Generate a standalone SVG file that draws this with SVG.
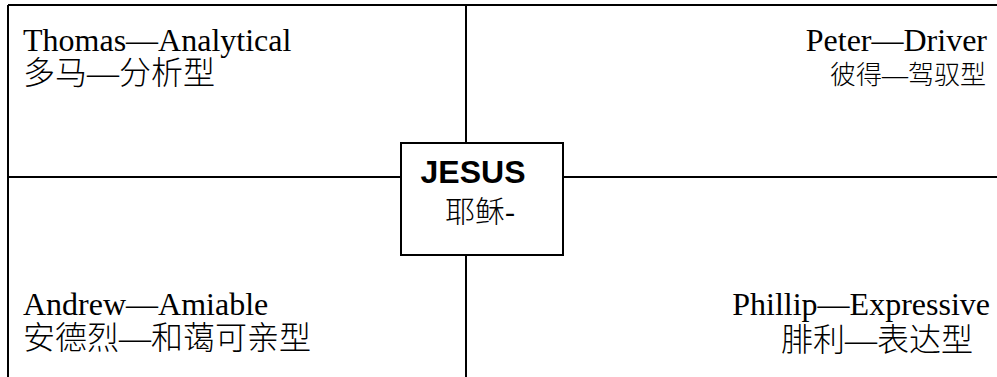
<svg xmlns="http://www.w3.org/2000/svg" width="997" height="377" viewBox="0 0 997 377">
<style>
.ln{stroke:#000;stroke-width:2;fill:none}
.en{font-family:"Liberation Serif","Times New Roman",serif;font-size:32px;fill:#000}
.zh{font-family:"Liberation Serif","Noto Sans CJK SC",serif;font-size:32px;fill:#000;font-weight:300}
.zhs{font-size:26px}
.zhm{font-size:30px}
.jb{font-family:"Liberation Sans",Arial,sans-serif;font-size:32px;font-weight:bold;fill:#000}
</style>
<rect width="997" height="377" fill="#fff"/>
<g id="connectors">
<line class="ln" x1="8" y1="5" x2="997" y2="5"/>
<line class="ln" x1="8" y1="5" x2="8" y2="377"/>
<line class="ln" x1="466" y1="5" x2="466" y2="143"/>
<line class="ln" x1="466" y1="255" x2="466" y2="377"/>
<line class="ln" x1="8" y1="177" x2="400" y2="177"/>
<line class="ln" x1="563" y1="177" x2="997" y2="177"/>
</g>
<g id="thomas">
<text class="en" x="23" y="51">Thomas—Analytical</text>
<text class="zh" x="23" y="84">多马—分析型</text>
</g>
<g id="peter">
<text class="en" x="987" y="51" text-anchor="end">Peter—Driver</text>
<text class="zh zhs" x="986" y="84" text-anchor="end">彼得—驾驭型</text>
</g>
<g id="jesus">
<rect class="ln" x="401" y="143" width="162" height="112"/>
<text class="jb" x="473" y="183" text-anchor="middle">JESUS</text>
<text class="zh zhm" x="445" y="222">耶稣-</text>
</g>
<g id="andrew">
<text class="en" x="23" y="315">Andrew—Amiable</text>
<text class="zh" x="23" y="349">安德烈—和蔼可亲型</text>
</g>
<g id="phillip">
<text class="en" x="990" y="315" text-anchor="end">Phillip—Expressive</text>
<text class="zh" x="973" y="351" text-anchor="end">腓利—表达型</text>
</g>
</svg>
